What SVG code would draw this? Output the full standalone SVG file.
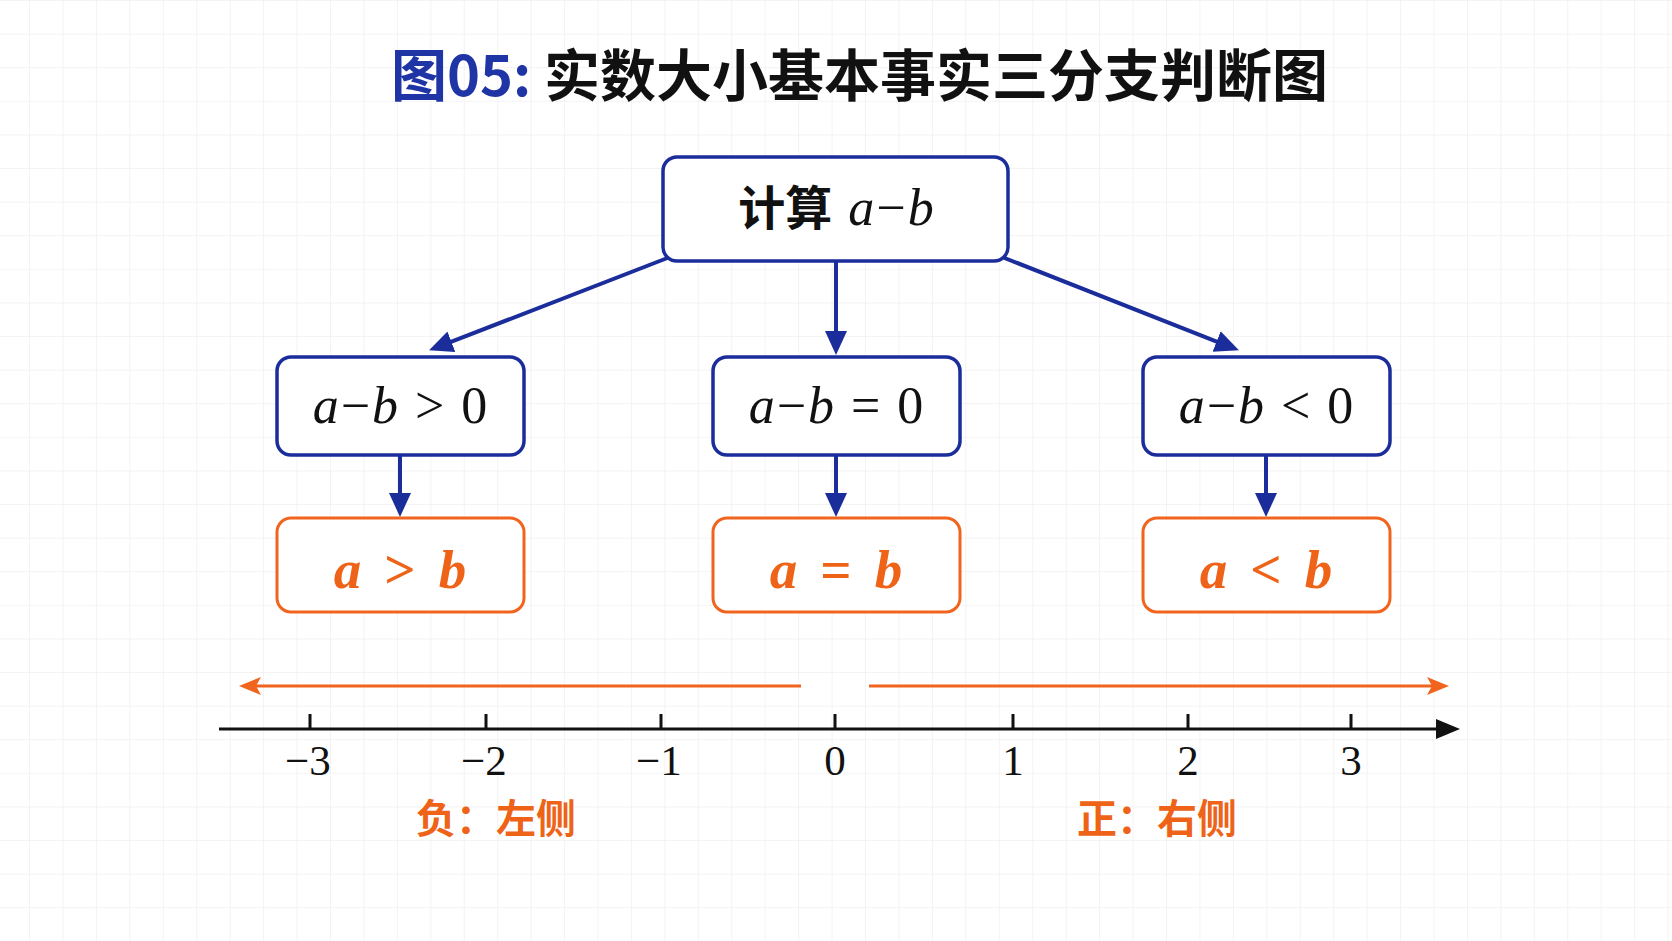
<svg xmlns="http://www.w3.org/2000/svg" width="1672" height="941" viewBox="0 0 1672 941">
<style>
.bg{fill:#ffffff}
.nb{fill:#ffffff;stroke:#1b2d9a;stroke-width:3.5}
.no{fill:#ffffff;stroke:#f0641e;stroke-width:3}
.math{font-family:"Liberation Serif",serif;font-size:52px;fill:#111111}
.mo{font-family:"Liberation Serif",serif;font-size:55px;fill:#ee6318;font-weight:bold}
.i{font-style:italic}
.cjk{font-family:"Noto Sans CJK SC",sans-serif;font-weight:bold}
.ax{font-family:"Liberation Serif",serif;font-size:43px;fill:#111111}
.lab{font-family:"Noto Sans CJK SC",sans-serif;font-weight:bold;font-size:40px;fill:#ee6318}
.cb{stroke:#1b2d9a;stroke-width:4;fill:none}
.co{stroke:#f0641e;stroke-width:3;fill:none}
.ck{stroke:#111111;stroke-width:3;fill:none}
</style>
<defs>
<pattern id="grid" x="-4.4" y="0" width="33.44" height="33.6" patternUnits="userSpaceOnUse">
<path d="M0,0 V33.6 M0,0 H33.44" stroke="#efefef" stroke-width="1.5" fill="none"/>
</pattern>
<marker id="ab" markerUnits="userSpaceOnUse" markerWidth="24" markerHeight="24" viewBox="0 0 24 24" refX="13" refY="12" orient="auto">
<path d="M0,1 L24,12 L0,23 z" fill="#1b2d9a"/>
</marker>
<marker id="ao" markerUnits="userSpaceOnUse" markerWidth="22" markerHeight="18" viewBox="0 0 22 18" refX="12" refY="9" orient="auto">
<path d="M0,0 L22,9 L0,18 L5,9 z" fill="#f0641e"/>
</marker>
<marker id="ak" markerUnits="userSpaceOnUse" markerWidth="24" markerHeight="20" viewBox="0 0 24 20" refX="13" refY="10" orient="auto">
<path d="M0,0 L24,10 L0,20 z" fill="#111111"/>
</marker>
</defs>
<rect class="bg" width="1672" height="941"/>
<rect width="1672" height="941" fill="url(#grid)"/>

<g id="title">
<text x="391" y="96" class="cjk" font-size="56"><tspan fill="#1f35a6">图05:</tspan><tspan fill="#111111"> 实数大小基本事实三分支判断图</tspan></text>
</g>

<g id="connectors">
<line class="cb" x1="670" y1="257" x2="439.3" y2="346.4" marker-end="url(#ab)"/>
<line class="cb" x1="836" y1="261" x2="836" y2="344" marker-end="url(#ab)"/>
<line class="cb" x1="1002" y1="257" x2="1228.7" y2="346.3" marker-end="url(#ab)"/>
<line class="cb" x1="400" y1="456" x2="400" y2="506" marker-end="url(#ab)"/>
<line class="cb" x1="836" y1="456" x2="836" y2="506" marker-end="url(#ab)"/>
<line class="cb" x1="1266" y1="456" x2="1266" y2="506" marker-end="url(#ab)"/>
</g>

<g id="n-top">
<rect class="nb" x="663" y="157" width="345" height="104" rx="14"/>
<text x="836" y="225" text-anchor="middle" class="math" font-size="50"><tspan class="cjk" font-size="47">计算</tspan><tspan dx="16" class="i">a</tspan><tspan dx="2">−</tspan><tspan dx="2" class="i">b</tspan></text>
</g>

<g id="n-pos">
<rect class="nb" x="277" y="357" width="247" height="98" rx="14"/>
<text x="400" y="423" text-anchor="middle" class="math"><tspan class="i">a</tspan><tspan dx="2">−</tspan><tspan dx="2" class="i">b</tspan><tspan dx="17">&gt;</tspan><tspan dx="17">0</tspan></text>
</g>
<g id="n-zero">
<rect class="nb" x="713" y="357" width="247" height="98" rx="14"/>
<text x="836" y="423" text-anchor="middle" class="math"><tspan class="i">a</tspan><tspan dx="2">−</tspan><tspan dx="2" class="i">b</tspan><tspan dx="17">=</tspan><tspan dx="17">0</tspan></text>
</g>
<g id="n-neg">
<rect class="nb" x="1143" y="357" width="247" height="98" rx="14"/>
<text x="1266" y="423" text-anchor="middle" class="math"><tspan class="i">a</tspan><tspan dx="2">−</tspan><tspan dx="2" class="i">b</tspan><tspan dx="17">&lt;</tspan><tspan dx="17">0</tspan></text>
</g>

<g id="r-gt">
<rect class="no" x="277" y="518" width="247" height="94" rx="14"/>
<text x="400" y="588" text-anchor="middle" class="mo"><tspan class="i">a</tspan><tspan dx="23">&gt;</tspan><tspan dx="23" class="i">b</tspan></text>
</g>
<g id="r-eq">
<rect class="no" x="713" y="518" width="247" height="94" rx="14"/>
<text x="836" y="588" text-anchor="middle" class="mo"><tspan class="i">a</tspan><tspan dx="23">=</tspan><tspan dx="23" class="i">b</tspan></text>
</g>
<g id="r-lt">
<rect class="no" x="1143" y="518" width="247" height="94" rx="14"/>
<text x="1266" y="588" text-anchor="middle" class="mo"><tspan class="i">a</tspan><tspan dx="23">&lt;</tspan><tspan dx="23" class="i">b</tspan></text>
</g>

<g id="number-line">
<line class="co" x1="801" y1="686" x2="249" y2="686" marker-end="url(#ao)"/>
<line class="co" x1="869" y1="686" x2="1439" y2="686" marker-end="url(#ao)"/>
<line class="ck" x1="219" y1="729" x2="1449" y2="729" marker-end="url(#ak)"/>
<path class="ck" d="M310,714 V729 M486,714 V729 M661,714 V729 M835,714 V729 M1013,714 V729 M1188,714 V729 M1351,714 V729"/>
<text class="ax" x="308" y="775" text-anchor="middle">−3</text>
<text class="ax" x="484" y="775" text-anchor="middle">−2</text>
<text class="ax" x="659" y="775" text-anchor="middle">−1</text>
<text class="ax" x="835" y="775" text-anchor="middle">0</text>
<text class="ax" x="1013" y="775" text-anchor="middle">1</text>
<text class="ax" x="1188" y="775" text-anchor="middle">2</text>
<text class="ax" x="1351" y="775" text-anchor="middle">3</text>
<text class="lab" x="496" y="833" text-anchor="middle">负：左侧</text>
<text class="lab" x="1157" y="833" text-anchor="middle">正：右侧</text>
</g>
</svg>
